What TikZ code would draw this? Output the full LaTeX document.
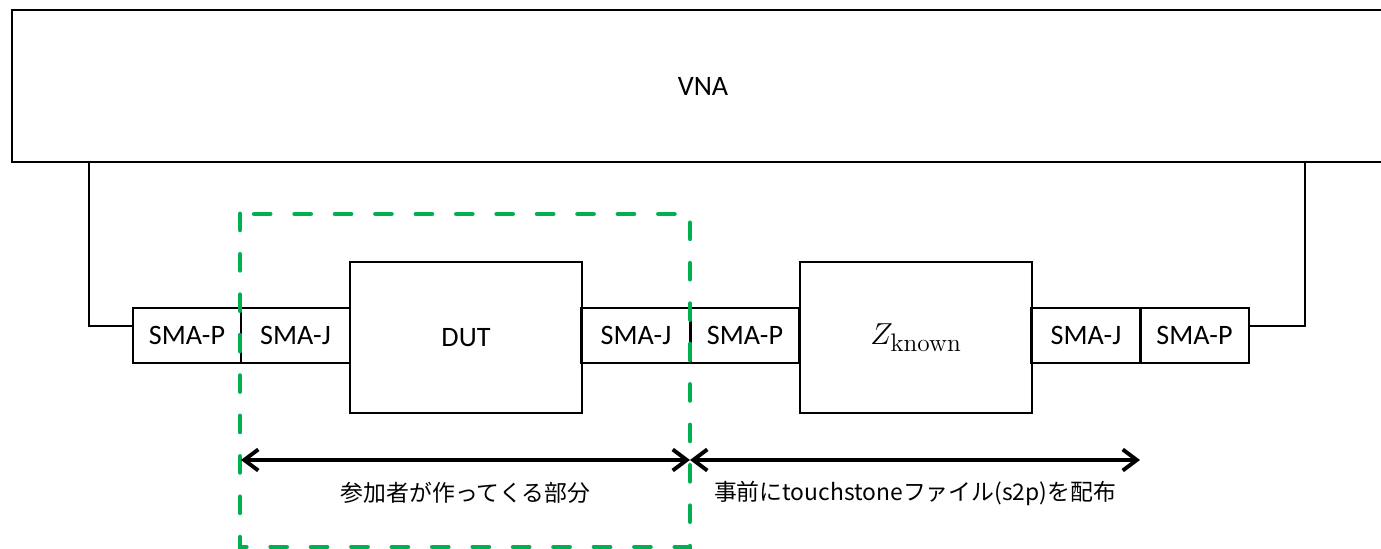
\documentclass[tikz,border=0pt]{standalone}
\usepackage[no-math]{fontspec}
\setmainfont{Carlito}
\newfontfamily\jpfont{Noto Sans CJK JP}
\usetikzlibrary{arrows.meta}
\definecolor{dashgreen}{HTML}{00B050}

\begin{document}
\begin{tikzpicture}[font=\fontsize{16}{19}\selectfont,
    conn/.style={minimum width=2.18cm,minimum height=1.10cm},
    dev/.style={minimum width=4.64cm,minimum height=3.02cm},
    wire/.style={line width=1.5pt},
    dimline/.style={line width=2.2pt,{Straight Barb[length=8pt,width=12pt]}-{Straight Barb[length=8pt,width=12pt]}},
    partbox/.style={dashgreen,line width=2.8pt,line cap=round,dash pattern=on 9pt off 14pt}]

        \useasboundingbox (0,0) rectangle (27.62,10.98);

        \begin{scope}[every node/.style={draw,line width=1.6pt,inner sep=0pt,outer sep=0pt}]
          \node[minimum width=27.64cm,minimum height=3.04cm] (vna) at (14.06,9.26) {VNA};
          \node[conn,minimum width=2.16cm] (p1) at (3.74,4.27)  {SMA-P};
          \node[conn] (j1)  at (5.91,4.27)  {SMA-J};
          \node[dev]  (dut) at (9.32,4.23)  {DUT};
          \node[conn] (j2)  at (12.72,4.27) {SMA-J};
          \node[conn] (p2)  at (14.90,4.27) {SMA-P};
          \node[dev,font=\fontsize{19}{22}\selectfont]  (zk)  at (18.32,4.23) {$Z_{\mathrm{known}}$};
          \node[conn] (j3)  at (21.72,4.27) {SMA-J};
          \node[conn] (p3)  at (23.89,4.27) {SMA-P};
        \end{scope}

        \coordinate (wl) at (1.78,0);
        \coordinate (wr) at (26.10,0);
        \draw[wire] (vna.south -| wl) |- ([yshift=.19cm]p1.west);
        \draw[wire] (vna.south -| wr) |- ([yshift=.19cm]p3.east);

        \draw[partbox] (4.80,6.70) rectangle (13.80,0.04);

        \coordinate (m1) at (4.82,1.78);
        \coordinate (m2) at (13.80,1.78);
        \coordinate (m3) at (22.80,1.78);

        \begin{scope}[every node/.style={font=\jpfont\fontsize{13}{16}\selectfont,yshift=-0.66cm}]
          \path (m1) edge[dimline] node {参加者が作ってくる部分} (m2);
          \path (m2) edge[dimline] node {事前にtouchstoneファイル(s2p)を配布} (m3);
        \end{scope}

      \end{tikzpicture}
\end{document}
